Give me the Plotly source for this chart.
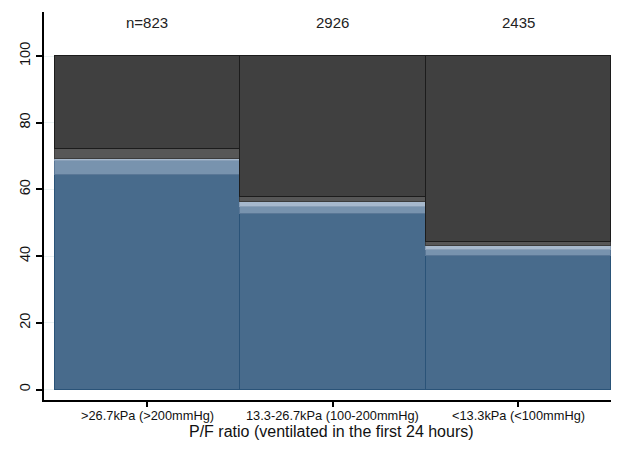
import plotly.graph_objects as go

categories = [">26.7kPa (>200mmHg)", "13.3-26.7kPa (100-200mmHg)", "<13.3kPa (<100mmHg)"]
n_labels = ["n=823", "2926", "2435"]

# stacked shares (%), bottom to top
seg_blue = [64.2, 52.6, 39.9]
seg_medium = [4.2, 2.1, 2.0]
seg_light = [0.8, 1.5, 1.1]
seg_gray = [2.9, 1.4, 1.1]
seg_dark = [27.9, 42.4, 55.9]

series = [
    (seg_blue, "#486b8c", "#2a5378"),
    (seg_medium, "#7893ae", "#5a7796"),
    (seg_light, "#a7b9cd", "#8aa0b8"),
    (seg_gray, "#575757", "#3c3c3c"),
    (seg_dark, "#404040", "#1c1c1c"),
]

xs = list(range(len(categories)))
fig = go.Figure()
for vals, col, edge in series:
    fig.add_trace(go.Bar(
        x=xs, y=vals, width=1.0,
        marker=dict(color=col, line=dict(color=edge, width=1)),
        showlegend=False, hoverinfo="skip",
    ))

for i, t in enumerate(n_labels):
    fig.add_annotation(x=xs[i], y=110.0, xref="x", yref="y", text=t,
                       showarrow=False, font=dict(size=15, color="#222"))

# category labels placed just under the tick marks
for i, c in enumerate(categories):
    fig.add_annotation(x=xs[i], xref="x", y=-0.040, yref="paper", yanchor="middle",
                       text=c, showarrow=False, font=dict(size=12.8, color="#111"))

fig.add_annotation(x=0.5, xref="paper", y=-0.082, yref="paper", yanchor="middle",
                   text="P/F ratio (ventilated in the first 24 hours)",
                   showarrow=False, font=dict(size=16, color="#111"))

fig.update_layout(
    barmode="stack", bargap=0,
    width=611, height=447,
    margin=dict(l=36, r=0, t=4, b=55),
    paper_bgcolor="white", plot_bgcolor="white",
    font=dict(family="Liberation Sans, Arial, sans-serif", color="#111"),
)
fig.update_xaxes(
    range=[-0.557, 2.543], tickvals=xs, showticklabels=False,
    showgrid=False, zeroline=False, automargin=False,
    showline=True, linecolor="black", linewidth=2,
    ticks="outside", ticklen=5, tickwidth=2, tickcolor="black",
)
fig.update_yaxes(
    range=[-3.15, 113.2], tickvals=[0, 20, 40, 60, 80, 100],
    tickangle=-90, tickfont=dict(size=14.5), automargin=False,
    showgrid=True, gridcolor="#eaf2f3", gridwidth=1, zeroline=False,
    showline=True, linecolor="black", linewidth=2,
    ticks="outside", ticklen=6, tickwidth=2, tickcolor="black",
)

fig.write_html("out.html")
